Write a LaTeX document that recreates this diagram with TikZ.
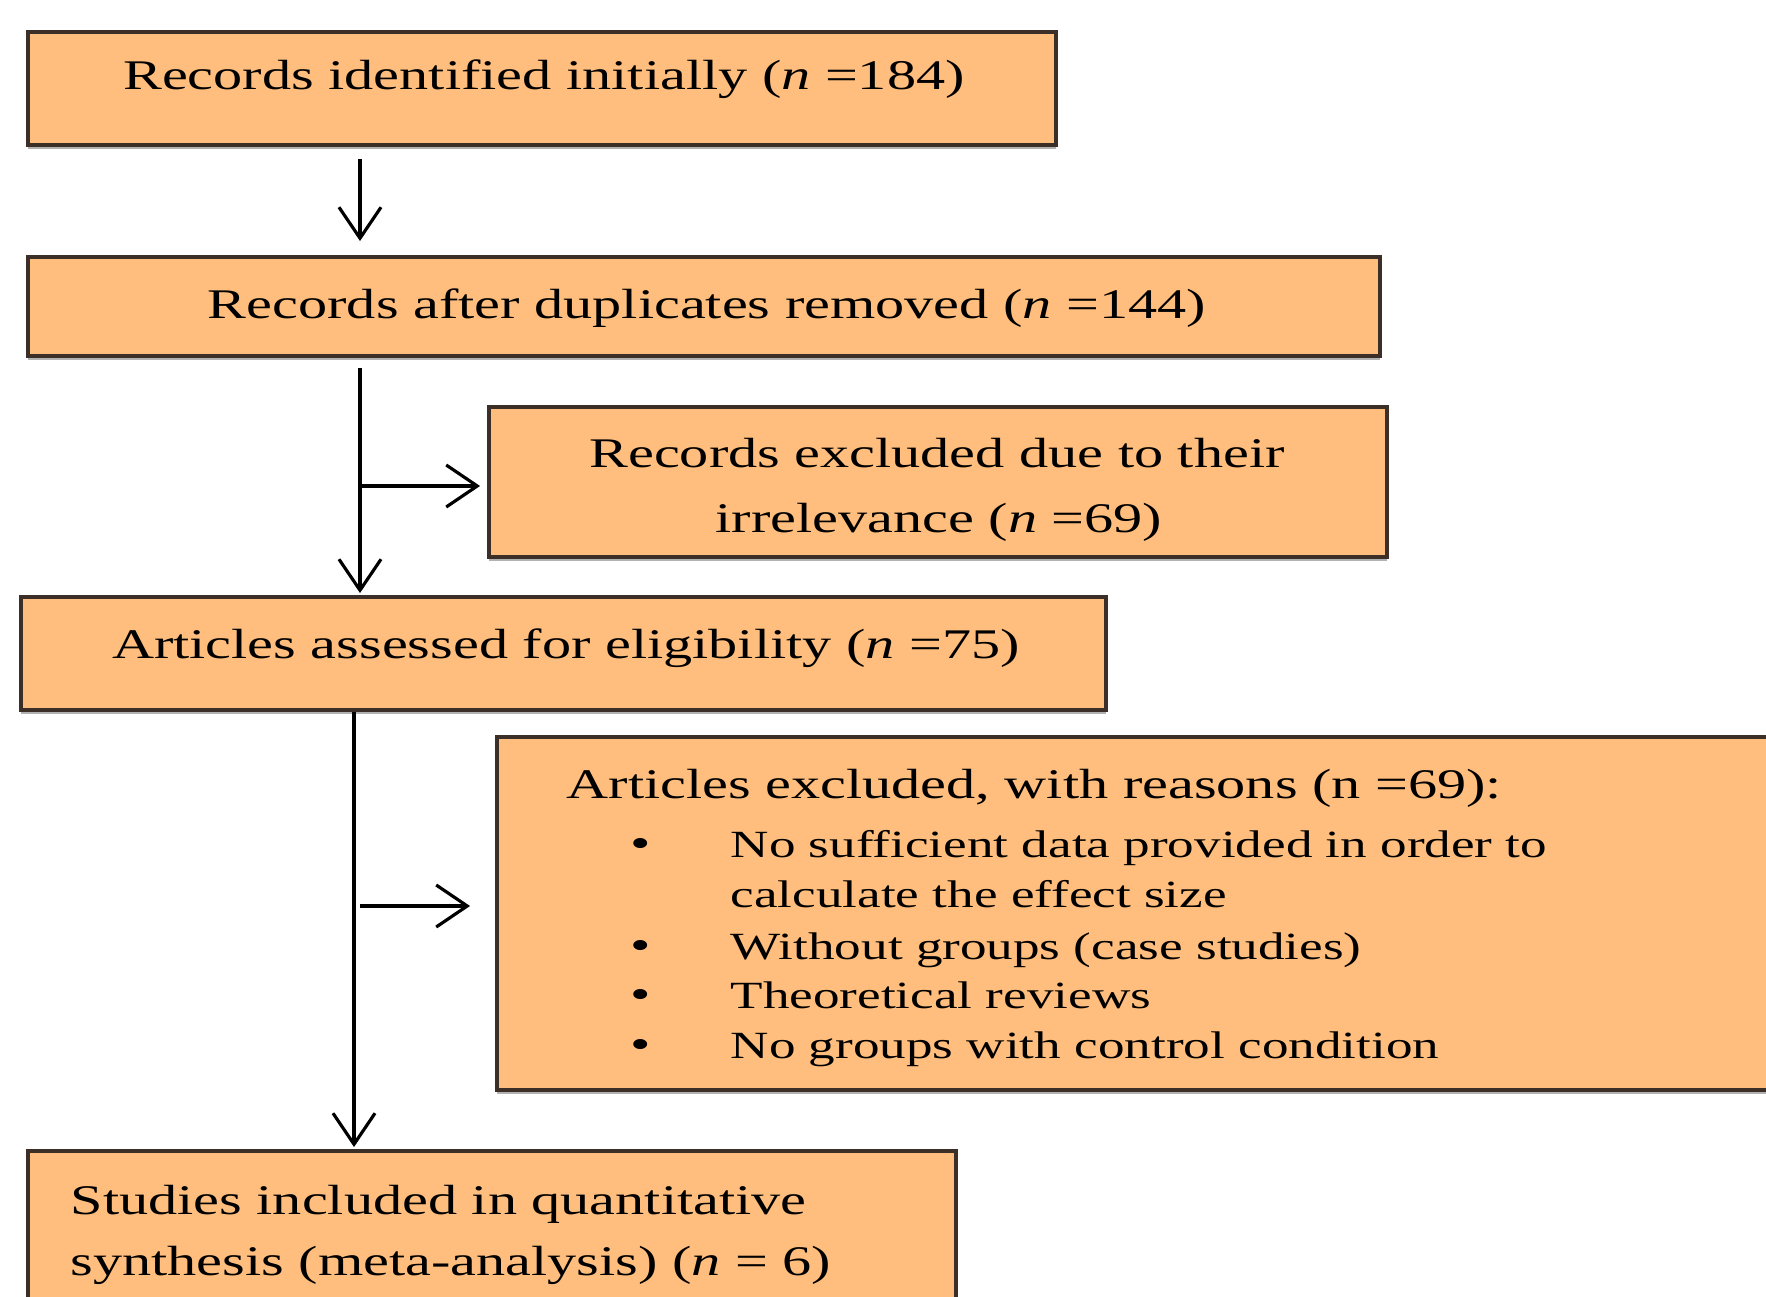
\documentclass[tikz,border=0pt]{standalone}
\usepackage{fontspec}
\setmainfont[FakeStretch=1.38]{Liberation Serif}
\usetikzlibrary{arrows.meta,fit,shadows}
\definecolor{boxfill}{HTML}{FFBE7D}
\definecolor{boxline}{HTML}{3B2F27}
\begin{document}
\begin{tikzpicture}[x=0.01cm,y=-0.01cm,
  box/.style={draw=boxline, fill=boxfill, line width=1.1pt, inner sep=0pt,
    drop shadow={shadow xshift=0cm, shadow yshift=-0.035cm, fill=black!30, opacity=1}},
  txt/.style={font=\fontsize{12}{14.4}\selectfont, inner sep=0pt, anchor=base},
  txtl/.style={txt, anchor=base west},
  itm/.style={txtl, font=\fontsize{10.95}{13}\selectfont},
  arr/.style={draw=black, line width=0.9pt, -{Straight Barb[length=3.1mm,width=4.2mm]}}]
\useasboundingbox (0,0) rectangle (1766,1297);
\clip (0,0) rectangle (1766,1297);
% boxes
\node[box, fit={(28,32)(1056,145)}] (b1) {};
\node[box, fit={(28,257)(1380,356)}] (b2) {};
\node[box, fit={(489,407)(1387,557)}] (b3) {};
\node[box, fit={(21,597)(1106,710)}] (b4) {};
\node[box, fit={(497,737)(1800,1090)}] (b5) {};
\node[box, fit={(28,1151)(956,1340)}] (b6) {};
% texts
\node[txt] (t1) at (544,90) {Records identified initially (\textit{n} =184)};
\node[txt] (t2) at (707,318) {Records after duplicates removed (\textit{n} =144)};
\node[txt] (t3a) at (937,467) {Records excluded due to their};
\node[txt] (t3b) at (939,532) {irrelevance (\textit{n} =69)};
\node[txt] (t4) at (566,658) {Articles assessed for eligibility (\textit{n} =75)};
\node[txtl] (t5) at (566,798) {Articles excluded, with reasons (n =69):};
\node[txt] (u1) at (641,857) {\textbullet};
\node[itm] (i1a) at (730,857) {No sufficient data provided in order to};
\node[itm] (i1b) at (730,907) {calculate the effect size};
\node[txt] (u2) at (641,959) {\textbullet};
\node[itm] (i2) at (730,959) {Without groups (case studies)};
\node[txt] (u3) at (641,1008) {\textbullet};
\node[itm] (i3) at (730,1008) {Theoretical reviews};
\node[txt] (u4) at (641,1058) {\textbullet};
\node[itm] (i4) at (730,1058) {No groups with control condition};
\node[txtl] (t6a) at (70,1214) {Studies included in quantitative};
\node[txtl] (t6b) at (70,1275) {synthesis (meta-analysis) (\textit{n} = 6)};
% connectors
\coordinate (c12) at (360,0);
\coordinate (c3) at (354,0);
\coordinate (j2) at (360,486);
\coordinate (j3) at (360,906);
\draw[arr, shorten <=0.12cm, shorten >=0.14cm] (b1.south -| c12) -- (b2.north -| c12);
\draw[arr, shorten <=0.10cm, shorten >=0.02cm] (b2.south -| c12) -- (b4.north -| c12);
\draw[arr, shorten >=0.07cm] (j2) -- (b3.west |- j2);
\draw[arr, shorten >=0.02cm] (b4.south -| c3) -- (b6.north -| c3);
\draw[arr, shorten >=0.25cm] (j3) -- (b5.west |- j3);
\end{tikzpicture}
\end{document}
